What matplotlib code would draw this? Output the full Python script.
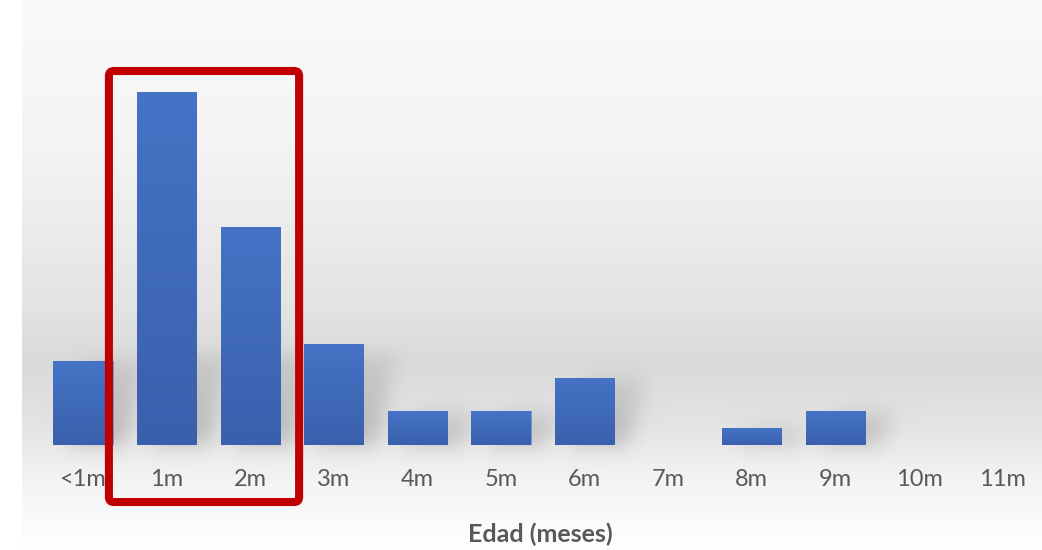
import numpy as np
import matplotlib
matplotlib.use("Agg")
import matplotlib.pyplot as plt
from matplotlib.colors import LinearSegmentedColormap
from matplotlib.patches import FancyBboxPatch

plt.rcParams['font.family'] = ['Lato', 'DejaVu Sans']

# casos por edad
categorias = ["<1m", "1m", "2m", "3m", "4m", "5m", "6m", "7m", "8m", "9m", "10m", "11m"]
casos = [5, 21, 13, 6, 2, 2, 4, 0, 1, 2, 0, 0]
destacados = ["1m", "2m"]

W, H = 1042, 550
fig = plt.figure(figsize=(W / 100, H / 100), dpi=100)

# fondo con degradado gris
bg = fig.add_axes([0, 0, 1, 1], zorder=0)
bg.set_xlim(0, W)
bg.set_ylim(H, 0)
bg.axis("off")
stops_y = [0, 150, 300, 360, 420, 480, 550]
stops_v = [0.980, 0.955, 0.895, 0.855, 0.890, 0.955, 1.0]
yy = np.arange(H)
col = np.interp(yy, stops_y, stops_v)
img = np.repeat(col[:, None], W, axis=1)
img[:, :22] = 1.0

ax = fig.add_axes([0, 105 / H, 1, 445 / H], zorder=1)
x = np.arange(len(categorias))
ax.set_xlim(-83 / 83.6, (W - 83) / 83.6)
ax.set_ylim(0, 445 / 16.8)
ax.patch.set_visible(False)
for s in ax.spines.values():
    s.set_visible(False)
ax.set_yticks([])
ax.set_xticks(x, categorias)
ax.tick_params(axis="x", length=0, pad=17, labelsize=17, labelcolor="#595959")
ax.set_xlabel("Edad (meses)", fontsize=18, fontweight="bold", color="#595959")
ax.xaxis.set_label_coords(0.519, -0.175)

bw = 0.71
fig.canvas.draw()

# sombras difusas detrás de las barras
shadow = np.zeros((H, W))
for xi, v in zip(x, casos):
    if v == 0:
        continue
    (x0, y0) = ax.transData.transform((xi - bw / 2, 0))
    (x1, y1) = ax.transData.transform((xi + bw / 2, v))
    top = H - y1
    base = H - y0
    hgt = min(base - top, 90)
    for r in range(int(base - hgt), int(base)):
        k = (base - r) / hgt
        off = 14 + 18 * k
        c0 = int(x0 + off)
        c1 = int(x1 + off)
        shadow[r, max(c0, 0):min(c1, W)] = 1.0 - 0.6 * k
ker_x = np.exp(-0.5 * (np.arange(-30, 31) / 10.0) ** 2)
ker_x /= ker_x.sum()
shadow = np.apply_along_axis(lambda r: np.convolve(r, ker_x, mode="same"), 1, shadow)
shadow = np.apply_along_axis(lambda c: np.convolve(c, ker_x, mode="same"), 0, shadow)
img = img * (1 - 0.2 * shadow)
bg.imshow(np.dstack([img] * 3), extent=(0, W, H, 0), aspect="auto", interpolation="nearest")

# barras con degradado azul
cmap = LinearSegmentedColormap.from_list("azul", ["#3960ad", "#4673c6"])
grad = np.linspace(0, 1, 256)[:, None]
bars = ax.bar(x, casos, width=bw, color="#4472c4", edgecolor="#6f95d6", linewidth=0.6)
for b in bars:
    if b.get_height() == 0:
        b.set_visible(False)
        continue
    im = ax.imshow(grad, cmap=cmap, aspect="auto", origin="lower",
                   extent=(b.get_x(), b.get_x() + b.get_width(), 0, b.get_height()), zorder=2)
    im.set_clip_path(b)
ax.set_xlim(-83 / 83.6, (W - 83) / 83.6)
ax.set_ylim(0, 445 / 16.8)

# recuadro rojo sobre las categorías destacadas
i0 = categorias.index(destacados[0])
i1 = categorias.index(destacados[-1])
px0 = ax.transData.transform((i0 - 0.69, 0))[0]
px1 = ax.transData.transform((i1 + 0.585, 0))[0]
rect = FancyBboxPatch((px0, 48), px1 - px0, 431,
                      boxstyle="round,pad=0,rounding_size=5",
                      transform=None, fill=False, edgecolor="#c00000", linewidth=5.8, zorder=5)
fig.patches.append(rect)

fig.savefig("out.png", dpi=100)
